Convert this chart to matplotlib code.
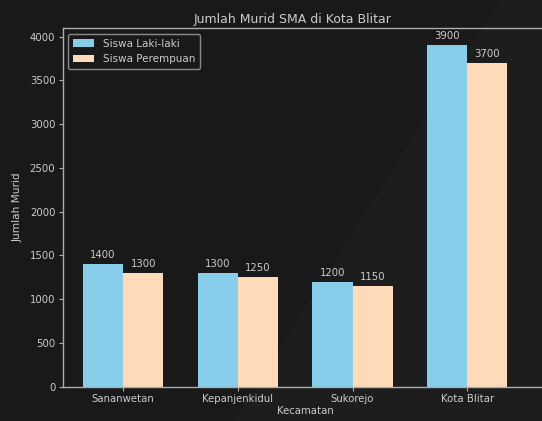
import numpy as np
import matplotlib
matplotlib.use("Agg")
import matplotlib.pyplot as plt
from matplotlib.patches import Polygon

kecamatan = ["Sananwetan", "Kepanjenkidul", "Sukorejo", "Kota Blitar"]
laki_laki = [1400, 1300, 1200, 3900]
perempuan = [1300, 1250, 1150, 3700]

txt = "#cccccc"
fs = 7.3
plt.rcParams.update({
    "font.size": fs,
    "text.color": txt,
    "axes.labelcolor": txt,
    "xtick.color": "#b0b0b0",
    "ytick.color": "#b0b0b0",
    "xtick.labelcolor": txt,
    "ytick.labelcolor": txt,
    "axes.edgecolor": "#adadad",
})

fig = plt.figure(figsize=(5.42, 4.21), dpi=100, facecolor="#191919")

# lighter diagonal band of the dark background
W, H = 542, 421
pts = [(233 / W, 0), (1, 0), (1, 1), (500 / W, 1)]
fig.patches.append(Polygon(pts, closed=True, transform=fig.transFigure,
                           facecolor="#1d1d1d", edgecolor="none", zorder=-1))

ax = fig.add_axes([63 / W, 34.3 / H, (548 - 63) / W, 358.4 / H])
ax.set_facecolor("none")

x = np.arange(len(kecamatan))
width = 0.35
b1 = ax.bar(x - width / 2, laki_laki, width, label="Siswa Laki-laki", color="skyblue")
b2 = ax.bar(x + width / 2, perempuan, width, label="Siswa Perempuan", color="peachpuff")

ax.bar_label(b1, padding=3, color=txt, fontsize=fs)
ax.bar_label(b2, padding=3, color=txt, fontsize=fs)

ax.set_xticks(x)
ax.set_xticklabels(kecamatan)
ax.set_xlim(-0.524, -0.524 + (548 - 63) / 114.7)
ax.set_ylim(0, 4096)
ax.set_yticks(np.arange(0, 4001, 500))
ax.tick_params(length=3, width=0.8, labelsize=fs, pad=2.5)

ax.set_xlabel("Kecamatan", fontsize=fs, labelpad=1)
ax.set_ylabel("Jumlah Murid", fontsize=7.6, labelpad=5)
ax.set_title("Jumlah Murid SMA di Kota Blitar", fontsize=9, color=txt, pad=4,
             x=(293 - 63) / (548 - 63))

leg = ax.legend(loc="upper left", fontsize=7.5, facecolor="#191919",
                edgecolor="#8a8a8a", framealpha=1, borderpad=0.5)
for t in leg.get_texts():
    t.set_color(txt)

for s in ax.spines.values():
    s.set_linewidth(1.0)

fig.savefig("out.png", dpi=100, facecolor=fig.get_facecolor())
